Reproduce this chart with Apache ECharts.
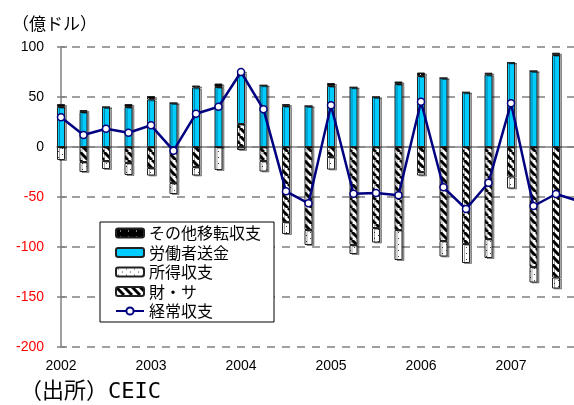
<!DOCTYPE html>
<html>
<head>
<meta charset="utf-8">
<script src="https://cdn.jsdelivr.net/npm/echarts@6/dist/echarts.min.js"></script>
<style>
  html, body { margin: 0; padding: 0; background: #fff; }
  #chart { width: 574px; height: 405px; }
</style>
</head>
<body>
<div id="chart"></div>
<script>
// 四半期 2002Q1〜2007Q4（最後の四半期は図の右端で切れている）
const quarters = [
  '2002Q1', '2002Q2', '2002Q3', '2002Q4',
  '2003Q1', '2003Q2', '2003Q3', '2003Q4',
  '2004Q1', '2004Q2', '2004Q3', '2004Q4',
  '2005Q1', '2005Q2', '2005Q3', '2005Q4',
  '2006Q1', '2006Q2', '2006Q3', '2006Q4',
  '2007Q1', '2007Q2', '2007Q3', '2007Q4'
];
const yearLabels = ['2002', '2003', '2004', '2005', '2006', '2007'];

// 単位：億ドル
const otherTransfer = [3, 2, 0, 3, 3.5, 0, 2, 3.5, 2, 0, 2, 0, 3, 0, 0, 2.5, 3.5, 0, 0, 2, 0, 0, 2.3, null];
const remittance = [40, 35, 40, 40, 47.5, 44, 59.5, 60, 51.3, 61.7, 41, 41, 61, 59.7, 50, 63, 71, 69, 54.7, 72.3, 84.5, 76, 92, null];
const income = [-13, -10, -8, -12, -7.5, -11, -8.5, -23, -3, -10.5, -12, -15, -12.5, -9, -14.5, -30, -3.5, -15.5, -19, -19, -12, -15.5, -11, null];
const goodsServices = [0, -15, -14, -16, -21, -36, -20, 0, 23, -14, -75, -83, -10, -98, -81, -83, -25, -94, -97, -92, -29.5, -120, -130.5, null];
const currentAccount = [29.7, 12, 18.3, 14.3, 21.7, -3.7, 33.3, 40.3, 75, 37.7, -44.3, -56.3, 41.7, -46.7, -46, -48.3, 45.3, -40.3, -62, -35.7, 43.7, -59, -47, -54];

const jpFont = '"Noto Sans CJK JP", sans-serif';
const numFont = '"Liberation Sans", Arial, sans-serif';

// ハッチング・ドット模様
function makePattern(w, h, draw) {
  const c = document.createElement('canvas');
  c.width = w;
  c.height = h;
  draw(c.getContext('2d'), w, h);
  return { image: c, repeat: 'repeat' };
}
const hatchPattern = makePattern(8, 8, (ctx, w, h) => {
  ctx.fillStyle = '#fff';
  ctx.fillRect(0, 0, w, h);
  ctx.strokeStyle = '#000';
  ctx.lineWidth = 3;
  for (let k = -1; k <= 1; k++) {
    ctx.beginPath();
    ctx.moveTo(k * w, 0);
    ctx.lineTo(k * w + w, h);
    ctx.stroke();
  }
});
const dotPattern = makePattern(8, 6, (ctx, w, h) => {
  ctx.fillStyle = '#fff';
  ctx.fillRect(0, 0, w, h);
  ctx.fillStyle = '#444';
  ctx.fillRect(2, 1, 1, 1);
  ctx.fillRect(6, 4, 1, 1);
});
const darkDotPattern = makePattern(8, 6, (ctx, w, h) => {
  ctx.fillStyle = '#000';
  ctx.fillRect(0, 0, w, h);
  ctx.fillStyle = '#fff';
  ctx.fillRect(4, 2, 1, 1);
});

const barBase = {
  type: 'bar',
  stack: 'total',
  barWidth: 8,
  xAxisIndex: 1,
  yAxisIndex: 1,
  silent: true
};
const barItem = (color) => ({
  color: color,
  borderColor: '#222',
  borderWidth: 1,
  shadowColor: 'rgba(0,0,0,0.35)',
  shadowOffsetX: 2,
  shadowOffsetY: 1,
  shadowBlur: 0
});

const chart = echarts.init(document.getElementById('chart'));

const option = {
  animation: false,
  backgroundColor: '#fff',
  title: [
    {
      text: '（億ドル）',
      left: 12,
      top: 15,
      padding: 0,
      textStyle: { fontFamily: jpFont, fontSize: 17, fontWeight: 'normal', color: '#000' }
    },
    {
      text: '（出所）CEIC',
      left: 20,
      top: 381,
      padding: 0,
      textStyle: { fontFamily: '"DejaVu Sans Mono", "Noto Sans CJK JP", monospace', fontSize: 22, fontWeight: 'normal', color: '#000' }
    }
  ],
  // grid 0: 軸・目盛り / grid 1: 四半期ごとの棒と折れ線（右端は画面外まで）
  grid: [
    { left: 57, right: 0, top: 47, height: 300, outerBoundsMode: 'none' },
    { left: 49.75, width: 540, top: 47, height: 300, outerBoundsMode: 'none' }
  ],
  legend: {
    orient: 'vertical',
    left: 100,
    top: 222,
    padding: [3, 13, 3, 15],
    itemGap: 3.5,
    itemWidth: 28,
    itemHeight: 9,
    borderColor: '#000',
    borderWidth: 1,
    borderRadius: 0,
    backgroundColor: '#fff',
    data: ['その他移転収支', '労働者送金', '所得収支', '財・サ', '経常収支'],
    textStyle: { fontFamily: jpFont, fontSize: 16, lineHeight: 16, color: '#000' }
  },
  xAxis: [
    {
      type: 'value',
      gridIndex: 0,
      min: -0.178,
      max: 22.8,
      splitLine: { show: false },
      axisLine: { show: false, onZero: false },
      axisTick: { show: false },
      axisLabel: {
        customValues: [0, 4, 8, 12, 16, 20],
        formatter: (v) => yearLabels[Math.round(v / 4)],
        margin: 12,
        fontFamily: numFont,
        fontSize: 14,
        color: '#000'
      }
    },
    {
      type: 'category',
      gridIndex: 1,
      data: quarters,
      boundaryGap: true,
      show: false
    },
    {
      // ゼロ線
      type: 'value',
      gridIndex: 0,
      min: -0.178,
      max: 22.8,
      position: 'bottom',
      splitLine: { show: false },
      axisLine: { show: true, onZero: true, lineStyle: { color: '#808080', width: 1.5 } },
      axisTick: { show: false },
      axisLabel: { show: false }
    }
  ],
  yAxis: [
    {
      type: 'value',
      gridIndex: 0,
      min: -200,
      max: 100,
      interval: 50,
      axisLine: { show: true, lineStyle: { color: '#808080', width: 1.5 } },
      axisTick: { show: true, inside: true, length: 6, lineStyle: { color: '#808080', width: 1.5 } },
      splitLine: {
        show: true,
        lineStyle: { color: '#808080', width: 1.5, type: [8, 7] }
      },
      axisLabel: {
        margin: 13,
        fontFamily: numFont,
        fontSize: 14,
        formatter: (v) => (v < 0 ? '-' + Math.abs(v) : String(v)),
        color: (v) => (Number(v) < 0 ? '#ff0000' : '#000')
      }
    },
    {
      type: 'value',
      gridIndex: 1,
      min: -200,
      max: 100,
      show: false,
      splitLine: { show: false }
    }
  ],
  series: [
    Object.assign({}, barBase, {
      name: '財・サ',
      data: goodsServices,
      itemStyle: barItem(hatchPattern)
    }),
    Object.assign({}, barBase, {
      name: '所得収支',
      data: income,
      itemStyle: barItem(dotPattern)
    }),
    Object.assign({}, barBase, {
      name: '労働者送金',
      data: remittance,
      itemStyle: barItem('#00ccff')
    }),
    Object.assign({}, barBase, {
      name: 'その他移転収支',
      data: otherTransfer,
      itemStyle: barItem(darkDotPattern)
    }),
    {
      name: '経常収支',
      type: 'line',
      xAxisIndex: 1,
      yAxisIndex: 1,
      data: currentAccount,
      silent: true,
      symbol: 'circle',
      symbolSize: 7,
      showAllSymbol: true,
      lineStyle: { color: '#000080', width: 2.5 },
      itemStyle: { color: '#fff', borderColor: '#000080', borderWidth: 1.5 },
      z: 5
    }
  ]
};

chart.setOption(option);
</script>
</body>
</html>
